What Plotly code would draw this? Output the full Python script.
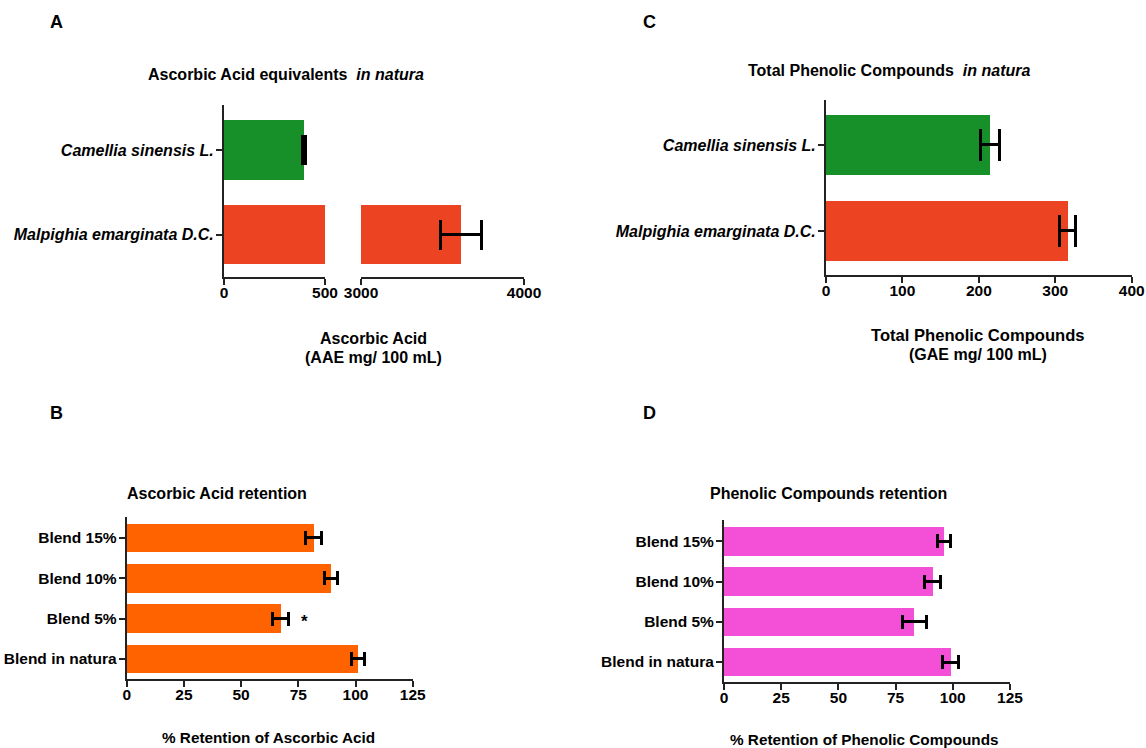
import plotly.graph_objects as go

# ---------------- data ----------------
a_categories = ["Camellia sinensis L.", "Malpighia emarginata D.C."]
a_values = [396, 3613]
a_errors = [8, 124]
a_low_ticks = [0, 500]
a_high_ticks = [3000, 4000]

c_categories = ["Camellia sinensis L.", "Malpighia emarginata D.C."]
c_values = [215, 316]
c_errors = [12.5, 10]
c_ticks = [0, 100, 200, 300, 400]

b_categories = ["Blend 15%", "Blend 10%", "Blend 5%", "Blend in natura"]
b_values = [81.7, 89.2, 67.3, 101.0]
b_errors = [3.5, 2.8, 3.5, 2.8]
b_significant = ["Blend 5%"]

d_categories = ["Blend 15%", "Blend 10%", "Blend 5%", "Blend in natura"]
d_values = [96.3, 91.2, 83.2, 99.1]
d_errors = [2.8, 3.6, 5.3, 3.6]

ret_ticks = [0, 25, 50, 75, 100, 125]

# ---------------- style ----------------
W, H = 1146, 748
FONT = "Liberation Sans, Arial, sans-serif"
GREEN = "#17902A"
RED = "#EC4322"
ORANGE = "#FF6300"
PINK = "#F44FD7"
AXC = "#222222"
TS = 15.5
TT = 16


def px(x):
    return x / W


def py(y):
    return 1 - y / H


fig = go.Figure()

# ----- Panel A (broken axis) -----
low_max = a_low_ticks[-1]
high_min = a_high_ticks[0]
a_colors = [GREEN, RED]
fig.add_trace(go.Bar(
    y=a_categories, x=a_values, orientation="h",
    marker=dict(color=a_colors, line=dict(width=0)), width=0.70,
    error_x=dict(type="data",
                 array=[e if v <= low_max else None for v, e in zip(a_values, a_errors)],
                 color="black", thickness=3, width=15),
    xaxis="x", yaxis="y", showlegend=False, cliponaxis=True))
hi_idx = [i for i, v in enumerate(a_values) if v >= high_min]
fig.add_trace(go.Bar(
    y=[a_categories[i] for i in hi_idx], x=[a_values[i] for i in hi_idx], orientation="h",
    marker=dict(color=[a_colors[i] for i in hi_idx], line=dict(width=0)), width=0.70,
    error_x=dict(type="data", array=[a_errors[i] for i in hi_idx],
                 color="black", thickness=3, width=15),
    xaxis="x2", yaxis="y", showlegend=False))

# ----- Panel C -----
fig.add_trace(go.Bar(
    y=c_categories, x=c_values, orientation="h",
    marker=dict(color=[GREEN, RED], line=dict(width=0)), width=0.70,
    error_x=dict(type="data", array=c_errors, color="black", thickness=3, width=16),
    xaxis="x3", yaxis="y3", showlegend=False))

# ----- Panel B -----
fig.add_trace(go.Bar(
    y=b_categories, x=b_values, orientation="h",
    marker=dict(color=ORANGE, line=dict(width=0)), width=0.71,
    error_x=dict(type="data", array=b_errors, color="black", thickness=3, width=7),
    xaxis="x4", yaxis="y4", showlegend=False))

# ----- Panel D -----
fig.add_trace(go.Bar(
    y=d_categories, x=d_values, orientation="h",
    marker=dict(color=PINK, line=dict(width=0)), width=0.71,
    error_x=dict(type="data", array=d_errors, color="black", thickness=3, width=7),
    xaxis="x5", yaxis="y5", showlegend=False))

tickfont = dict(family=FONT, size=TS, color="black", weight="bold")
catfont = dict(family=FONT, size=16, color="black", weight="bold", style="italic")


def xax(domain, rng, ticks, anchor):
    return dict(domain=domain, range=rng, tickvals=ticks, showline=True, linecolor=AXC,
                linewidth=2, ticks="outside", ticklen=6, tickwidth=2, tickcolor=AXC,
                showgrid=False, zeroline=False, tickfont=tickfont, anchor=anchor,
                fixedrange=True, automargin=False, ticklabelstandoff=-6)


def yax(domain, rng, cats, anchor, font):
    return dict(domain=domain, range=rng, type="category", categoryorder="array",
                categoryarray=list(reversed(cats)), showline=True, linecolor=AXC,
                linewidth=2, ticks="outside", ticklen=6, tickwidth=2, tickcolor=AXC,
                showgrid=False, zeroline=False, tickfont=font, anchor=anchor,
                fixedrange=True, automargin=False, ticklabelstandoff=-1)


fig.update_layout(
    width=W, height=H, margin=dict(l=0, r=0, t=0, b=0, autoexpand=False),
    paper_bgcolor="white", plot_bgcolor="white",
    font=dict(family=FONT, color="black"),
    bargap=0,
    xaxis=xax([px(224), px(325)], [0, low_max], a_low_ticks, "y"),
    xaxis2=xax([px(361), px(524)], [high_min, a_high_ticks[-1]], a_high_ticks, "y"),
    yaxis=yax([py(277), py(105)], [-0.503, 1.533], a_categories, "x", catfont),
    xaxis3=xax([px(826), px(1131.7)], [0, c_ticks[-1]], c_ticks, "y3"),
    yaxis3=yax([py(275), py(100)], [-0.512, 1.523], c_categories, "x3", catfont),
    xaxis4=xax([px(126.7), px(412.7)], [0, ret_ticks[-1]], ret_ticks, "y4"),
    yaxis4=yax([py(679), py(517)], [-0.496, 3.52], b_categories, "x4", tickfont),
    xaxis5=xax([px(724), px(1010)], [0, ret_ticks[-1]], ret_ticks, "y5"),
    yaxis5=yax([py(682.3), py(520)], [-0.505, 3.535], d_categories, "x5", tickfont),
)


def label(text, x, y, size=TT, xanchor="center"):
    fig.add_annotation(text=text, x=px(x), y=py(y), xref="paper", yref="paper",
                       showarrow=False, xanchor=xanchor, yanchor="middle",
                       font=dict(family=FONT, size=size, color="black"))


# panel letters
label("<b>A</b>", 48, 22, 18, "left")
label("<b>C</b>", 641, 22, 18, "left")
label("<b>B</b>", 48, 413, 18, "left")
label("<b>D</b>", 641, 413, 18, "left")

# titles
label("<b>Ascorbic Acid equivalents  <i>in natura</i></b>", 286, 75)
label("<b>Total Phenolic Compounds  <i>in natura</i></b>", 889, 70)
label("<b>Ascorbic Acid retention</b>", 217, 493)
label("<b>Phenolic Compounds retention</b>", 828, 493)

# axis titles
label("<b>Ascorbic Acid</b>", 373, 338)
label("<b>(AAE mg/ 100 mL)</b>", 373, 357)
label("<b>Total Phenolic Compounds</b>", 978, 335, 16.6)
label("<b>(GAE mg/ 100 mL)</b>", 978, 354)
label("<b>% Retention of Ascorbic Acid</b>", 268, 737, 15.3)
label("<b>% Retention of Phenolic Compounds</b>", 864, 739, 15.3)

# significance marker
for cat in b_significant:
    i = b_categories.index(cat)
    fig.add_annotation(text="<b>*</b>", x=b_values[i] + b_errors[i] + 7, y=cat,
                       xref="x4", yref="y4", showarrow=False, yshift=-3,
                       font=dict(family=FONT, size=17, color="black"))

fig.write_html(
    "out.html",
    config={"displayModeBar": False},
    post_script="document.body.style.margin='0';document.body.style.overflow='hidden';",
)
